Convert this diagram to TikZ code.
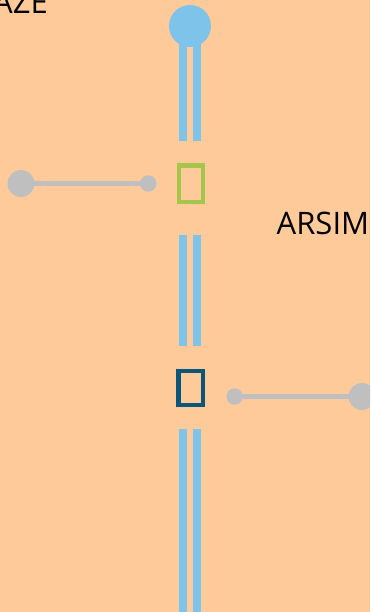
\documentclass[tikz,border=0pt]{standalone}
\usepackage{fontspec}
\setmainfont{Open Sans}
\definecolor{bgpeach}{RGB}{255,202,153}
\definecolor{pipeblue}{RGB}{125,195,234}
\definecolor{stubgray}{RGB}{191,191,191}
\definecolor{boxgreen}{RGB}{165,198,74}
\definecolor{boxdark}{RGB}{11,86,120}
\tikzset{
  bar/.style={draw=pipeblue, line width=7.2pt},
  stub/.style={draw=stubgray, line width=5.5pt},
  stationbox/.style={rectangle, line width=4.5pt, fill=none, inner sep=0pt},
  label/.style={font=\fontsize{31}{31}\selectfont, text=black, inner sep=0pt, anchor=base west}
}
\begin{document}
\begin{tikzpicture}[x=1pt,y=-1pt]
\fill[bgpeach] (0,0) rectangle (370,612);
\useasboundingbox (0,0) rectangle (370,612);
\begin{scope}
\clip (0,0) rectangle (370,612);
% coordinates
\coordinate (s1t) at (190,26);
\coordinate (s1bl) at (183,141.5);
\coordinate (s1br) at (197,141.5);
\coordinate (s1tl) at (183,26);
\coordinate (s1tr) at (197,26);
\coordinate (s2tl) at (183,234.5);
\coordinate (s2tr) at (197,234.5);
\coordinate (s2bl) at (183,346);
\coordinate (s2br) at (197,346);
\coordinate (s3tl) at (183,429);
\coordinate (s3tr) at (197,429);
\coordinate (s3bl) at (183,612);
\coordinate (s3br) at (197,612);
% bars
\draw[bar] (s1tl) -- (s1bl);
\draw[bar] (s1tr) -- (s1br);
\draw[bar] (s2tl) -- (s2bl);
\draw[bar] (s2tr) -- (s2br);
\draw[bar] (s3tl) -- (s3bl);
\draw[bar] (s3tr) -- (s3br);
% terminus
\node[circle, fill=pipeblue, minimum size=42pt, inner sep=0pt] (term) at (s1t) {};
% stations
\node[stationbox, draw=boxgreen, minimum width=23.8pt, minimum height=36.5pt] (st1) at (191,183.7) {};
\node[stationbox, draw=boxdark, minimum width=24.5pt, minimum height=34pt] (st2) at (190.7,388) {};
% stubs
\node[circle, fill=stubgray, minimum size=27pt, inner sep=0pt] (g1a) at (21,183.5) {};
\node[circle, fill=stubgray, minimum size=16.5pt, inner sep=0pt] (g1b) at (148.3,183.5) {};
\draw[stub] (g1a.center) -- (g1b.center);
\node[circle, fill=stubgray, minimum size=16.5pt, inner sep=0pt] (g2a) at (234.7,396.5) {};
\node[circle, fill=stubgray, minimum size=27pt, inner sep=0pt] (g2b) at (362,396.5) {};
\draw[stub] (g2a.center) -- (g2b.center);
% labels
\node[label] (aze) at (-7,13.5) {AZE};
\node[label] (arsim) at (276.5,234) {ARSIM};
\end{scope}
\end{tikzpicture}
\end{document}
